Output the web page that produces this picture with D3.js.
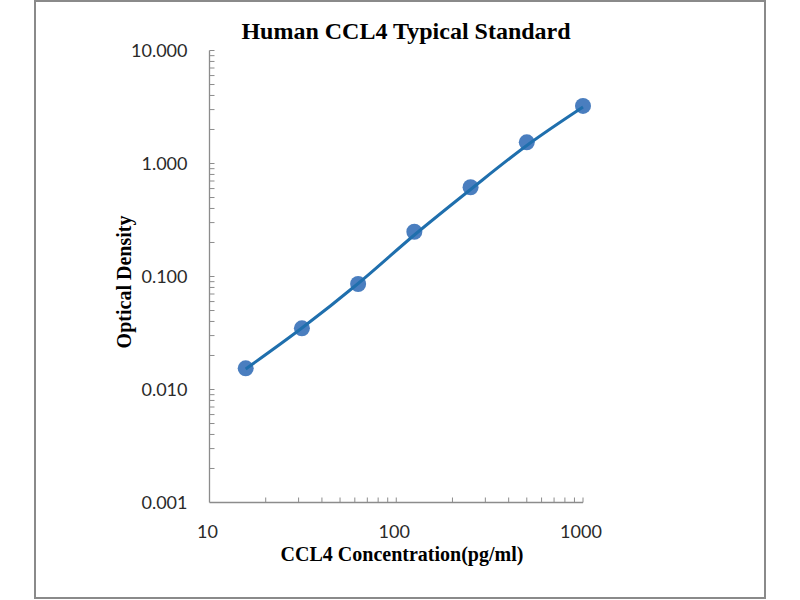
<!DOCTYPE html>
<meta charset="utf-8">
<script src="https://d3js.org/d3.v7.min.js"></script>
<style>
  body { margin: 0; background: #fff; }
</style>
<body>
<div id="canvas"></div>
<script>
    // valores
    var conc = [15.625, 31.25, 62.5, 125, 250, 500, 1000];
    var od = [0.0154, 0.0348, 0.0858, 0.249, 0.616, 1.54, 3.23];
    var fitOD = [0.0152, 0.0350, 0.0867, 0.233, 0.589, 1.443, 3.16];
    var yTicks = [0.001, 0.01, 0.1, 1, 10];
    var xTicks = [10, 100, 1000];

    var width = 800;
    var height = 600;

    var svg = d3.select('#canvas')
        .append("svg")
        .attr('width', width)
        .attr('height', height);

    // moldura
    svg.append("rect")
        .attr("x", 35)
        .attr("y", 1)
        .attr("width", 730)
        .attr("height", 597)
        .attr("fill", "#fff")
        .attr("stroke", "#8a8a8a")
        .attr("stroke-width", 2);

    var x = d3.scaleLog()
        .domain([10, 1000])
        .range([209.5, 583]);

    var y = d3.scaleLog()
        .domain([0.001, 10])
        .range([502.5, 50.5]);

    var axisColor = "#8c8c8c";

    // minor ticks
    var xMinor = [], yMinor = [];
    for (var d = 10; d < 1000; d *= 10)
        for (var k = 2; k <= 9; k++) xMinor.push(d * k);
    for (var d2 = 0.001; d2 < 9; d2 *= 10)
        for (var k2 = 2; k2 <= 9; k2++) yMinor.push(d2 * k2);

    // eixo X
    var gx = svg.append("g")
        .attr("transform", "translate(0," + y(0.001) + ")");
    gx.append("line")
        .attr("x1", x(10)).attr("x2", x(1000))
        .attr("stroke", axisColor).attr("stroke-width", 1.3);
    gx.selectAll(".xminor")
        .data(xMinor.concat([100, 1000]))
        .enter().append("line")
        .attr("x1", function(d) { return x(d); })
        .attr("x2", function(d) { return x(d); })
        .attr("y1", 0).attr("y2", -5)
        .attr("stroke", axisColor);
    gx.selectAll(".xlabel")
        .data(xTicks)
        .enter().append("text")
        .attr("x", function(d) { return x(d) - 2; })
        .attr("y", 35)
        .attr("text-anchor", "middle")
        .style("font-family", "Lato, 'Open Sans', sans-serif")
        .style("font-size", "18px")
        .attr("fill", "#2a2a2a")
        .text(function(d) { return d; });

    // eixo Y
    var gy = svg.append("g")
        .attr("transform", "translate(" + x(10) + ",0)");
    gy.append("line")
        .attr("y1", y(0.001)).attr("y2", y(10))
        .attr("stroke", axisColor).attr("stroke-width", 1.3);
    gy.selectAll(".yminor")
        .data(yMinor.concat(yTicks.slice(1)))
        .enter().append("line")
        .attr("y1", function(d) { return y(d); })
        .attr("y2", function(d) { return y(d); })
        .attr("x1", 0).attr("x2", 5)
        .attr("stroke", axisColor);
    gy.selectAll(".ylabel")
        .data(yTicks)
        .enter().append("text")
        .attr("x", -22)
        .attr("y", function(d) { return y(d); })
        .attr("dy", "0.35em")
        .attr("text-anchor", "end")
        .style("font-family", "Lato, 'Open Sans', sans-serif")
        .style("font-size", "18px")
        .attr("fill", "#2a2a2a")
        .text(function(d) { return d3.format(".3f")(d); });

    // pontos
    var pts = conc.map(function(c, i) { return {c: c, v: od[i]}; });
    svg.selectAll(".dot")
        .data(pts)
        .enter().append("circle")
        .attr("cx", function(d) { return x(d.c); })
        .attr("cy", function(d) { return y(d.v); })
        .attr("r", 8)
        .attr("fill", "#4a7ebf");

    // curva de tendencia
    var fit = conc.map(function(c, i) { return {c: c, v: fitOD[i]}; });
    var line = d3.line()
        .x(function(d) { return x(d.c); })
        .y(function(d) { return y(d.v); })
        .curve(d3.curveCatmullRom.alpha(0.5));
    svg.append("path")
        .attr("d", line(fit))
        .attr("fill", "none")
        .attr("stroke", "#1f6fad")
        .attr("stroke-width", 3);

    // titulos
    svg.append("text")
        .attr("x", 406)
        .attr("y", 39)
        .attr("text-anchor", "middle")
        .style("font-family", "'Liberation Serif', 'Times New Roman', serif")
        .style("font-weight", "bold")
        .style("font-size", "24px")
        .text("Human CCL4 Typical Standard");

    svg.append("text")
        .attr("x", 402)
        .attr("y", 561)
        .attr("text-anchor", "middle")
        .style("font-family", "'Liberation Serif', 'Times New Roman', serif")
        .style("font-weight", "bold")
        .style("font-size", "20px")
        .text("CCL4 Concentration(pg/ml)");

    svg.append("text")
        .attr("transform", "translate(131,282) rotate(-90)")
        .attr("text-anchor", "middle")
        .style("font-family", "'Liberation Serif', 'Times New Roman', serif")
        .style("font-weight", "bold")
        .style("font-size", "20px")
        .text("Optical Density");
</script>
</body>
